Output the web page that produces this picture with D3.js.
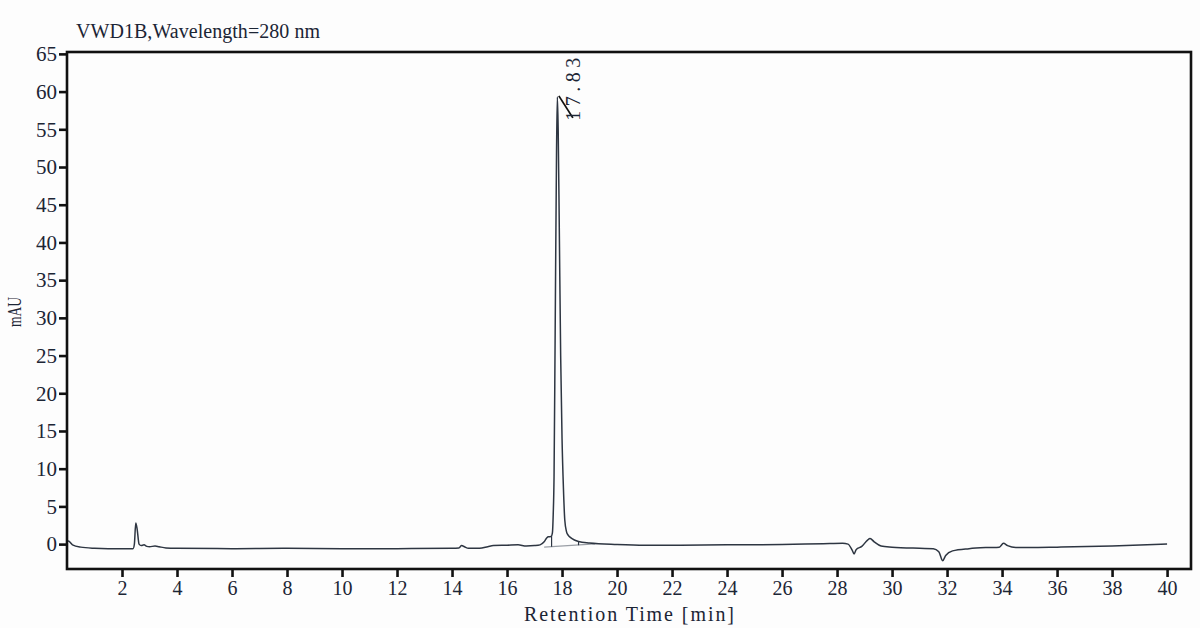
<!DOCTYPE html>
<html>
<head>
<meta charset="utf-8">
<script src="https://cdn.jsdelivr.net/npm/d3@7"></script>
<style>
  html, body { margin: 0; padding: 0; background: #fdfdfd; }
  #chart { width: 1200px; height: 628px; }
</style>
</head>
<body>
<div id="chart"></div>
<script>
// chromatogram trace, [retention time (min), signal (mAU)]
const traceTimes = [
  0.00, 0.05, 0.20, 0.50, 1.00, 1.50, 2.00, 2.40, 2.45, 2.50, 2.55, 2.62, 2.70, 2.80, 2.90, 3.00,
  3.20, 3.35, 3.60, 4.00, 6.00, 8.00, 10.00, 12.00, 14.00, 14.25, 14.35, 14.45, 14.60, 15.00,
  15.30, 15.50, 16.00, 16.40, 16.70, 17.00, 17.20, 17.35, 17.45, 17.50, 17.60, 17.65, 17.68,
  17.71, 17.75, 17.80, 17.83, 17.86, 17.90, 17.95, 18.00, 18.05, 18.10, 18.16, 18.22, 18.30,
  18.45, 18.60, 19.00, 20.00, 21.00, 22.00, 24.00, 26.00, 27.50, 28.20, 28.40, 28.55, 28.62,
  28.70, 28.90, 29.10, 29.20, 29.35, 29.60, 30.00, 31.00, 31.50, 31.70, 31.84, 31.95, 32.20,
  32.80, 33.50, 33.90, 34.05, 34.20, 34.50, 35.00, 36.00, 38.00, 40.00
];
const traceValues = [
  0.30, 0.40, -0.10, -0.40, -0.55, -0.60, -0.60, -0.60, 0.00, 2.80, 2.00, 0.00, -0.20, -0.10, -0.30, -0.35,
  -0.25, -0.35, -0.50, -0.55, -0.60, -0.55, -0.60, -0.60, -0.55, -0.50, -0.20, -0.35, -0.55, -0.55,
  -0.35, -0.20, -0.15, -0.10, -0.25, -0.20, -0.10, 0.30, 0.85, 0.97, 1.00, 1.50, 4.00,
  9.00, 28.0, 52.0, 59.3, 55.0, 42.0, 25.0, 14.0, 7.50, 3.20, 1.70, 1.20, 0.90,
  0.55, 0.35, 0.15, -0.05, -0.15, -0.15, -0.10, -0.05, 0.05, 0.10, 0.00, -0.80, -1.30,
  -0.70, -0.30, 0.50, 0.75, 0.30, -0.25, -0.40, -0.55, -0.60, -1.00, -2.20, -1.50, -0.90,
  -0.60, -0.45, -0.40, 0.10, -0.20, -0.45, -0.45, -0.40, -0.25, 0.00
];

// integration baseline under the main peak and its start / end markers
const baselineTimes = [17.35, 19.20];
const baselineValues = [-0.40, 0.02];
const markerTimes = [17.62, 18.60];
const markerTops = [1.00, 0.35];
const markerBottoms = [-0.35, -0.15];

const peakLabel = "17.83";
const peakTime = 17.83;
const peakValue = 59.3;

const xTicks = d3.range(2, 41, 2);
const yTicks = d3.range(0, 66, 5);

const title = "VWD1B,Wavelength=280 nm";
const xTitle = "Retention Time [min]";
const yTitle = "mAU";

const width = 1200;
const height = 628;
const margin = ({top: 52, right: 9, bottom: 59, left: 67});

const ink = "#1c2535";
const lineColor = "#2e3642";
const serif = "'Liberation Serif', 'Times New Roman', serif";

const x = d3.scaleLinear()
    .domain([0, 40.87])
    .range([margin.left, width - margin.right]);

const y = d3.scaleLinear()
    .domain([-3.3, 65.25])
    .range([height - margin.bottom, margin.top]);

const svg = d3.select("#chart")
    .append("svg")
    .attr("width", width)
    .attr("height", height);

const trace = traceTimes.map((t, i) => ({t: t, v: traceValues[i]}));
const base = baselineTimes.map((t, i) => ({t: t, v: baselineValues[i]}));

const line = d3.line()
    .curve(d3.curveMonotoneX)
    .x(d => x(d.t))
    .y(d => y(d.v));

// grey integration baseline
svg.append("path")
    .datum(base)
    .attr("fill", "none")
    .attr("stroke", "#9a9fa6")
    .attr("stroke-width", 1.3)
    .attr("d", d3.line().x(d => x(d.t)).y(d => y(d.v)));

svg.append("g")
    .selectAll("line")
    .data(markerTimes)
    .join("line")
    .attr("x1", d => x(d))
    .attr("x2", d => x(d))
    .attr("y1", (d, i) => y(markerTops[i]))
    .attr("y2", (d, i) => y(markerBottoms[i]))
    .attr("stroke", lineColor)
    .attr("stroke-width", 1.2);

svg.append("path")
    .datum(trace)
    .attr("fill", "none")
    .attr("stroke", lineColor)
    .attr("stroke-width", 1.5)
    .attr("stroke-linejoin", "round")
    .attr("d", line);

// peak annotation
const px = x(peakTime) + 1.5;
const py = y(peakValue) - 1;
svg.append("line")
    .attr("x1", px)
    .attr("y1", py)
    .attr("x2", px + 14)
    .attr("y2", py + 22)
    .attr("stroke", "#111")
    .attr("stroke-width", 1.8);

svg.append("text")
    .attr("transform", `translate(${px + 21},${py + 25}) rotate(-90)`)
    .attr("font-family", serif)
    .attr("font-size", 20)
    .attr("fill", ink)
    .attr("textLength", 63)
    .attr("lengthAdjust", "spacing")
    .text(peakLabel);

// axes
const xAxis = g => g
    .attr("transform", `translate(0,${height - margin.bottom})`)
    .call(d3.axisBottom(x).tickValues(xTicks).tickSize(8).tickPadding(4).tickSizeOuter(0))
    .call(g => g.select(".domain").remove())
    .call(g => g.selectAll(".tick line").attr("stroke", "#111").attr("stroke-width", 2.6))
    .call(g => g.selectAll(".tick text")
        .attr("font-family", serif)
        .attr("font-size", 20)
        .attr("fill", ink));

const yAxis = g => g
    .attr("transform", `translate(${margin.left},0)`)
    .call(d3.axisLeft(y).tickValues(yTicks).tickSize(8).tickPadding(2).tickSizeOuter(0))
    .call(g => g.select(".domain").remove())
    .call(g => g.selectAll(".tick line").attr("stroke", "#111").attr("stroke-width", 2.6))
    .call(g => g.selectAll(".tick text")
        .attr("font-family", serif)
        .attr("font-size", 21)
        .attr("fill", ink));

svg.append("g").call(xAxis);
svg.append("g").call(yAxis);

// frame
svg.append("rect")
    .attr("x", margin.left)
    .attr("y", margin.top)
    .attr("width", width - margin.left - margin.right)
    .attr("height", height - margin.top - margin.bottom)
    .attr("fill", "none")
    .attr("stroke", "#111")
    .attr("stroke-width", 2.6);

// titles (monospaced serif look: serif glyphs spread to the original width)
svg.append("text")
    .attr("x", 76)
    .attr("y", 38)
    .attr("font-family", serif)
    .attr("font-size", 20)
    .attr("fill", ink)
    .attr("textLength", 244)
    .attr("lengthAdjust", "spacing")
    .text(title);

svg.append("text")
    .attr("x", (margin.left + width - margin.right) / 2)
    .attr("y", 621)
    .attr("text-anchor", "middle")
    .attr("font-family", serif)
    .attr("font-size", 20)
    .attr("fill", ink)
    .attr("textLength", 210)
    .attr("lengthAdjust", "spacing")
    .text(xTitle);

svg.append("text")
    .attr("transform", "translate(21,312) rotate(-90)")
    .attr("text-anchor", "middle")
    .attr("font-family", serif)
    .attr("font-size", 18)
    .attr("fill", ink)
    .attr("textLength", 30)
    .attr("lengthAdjust", "spacingAndGlyphs")
    .text(yTitle);
</script>
</body>
</html>
